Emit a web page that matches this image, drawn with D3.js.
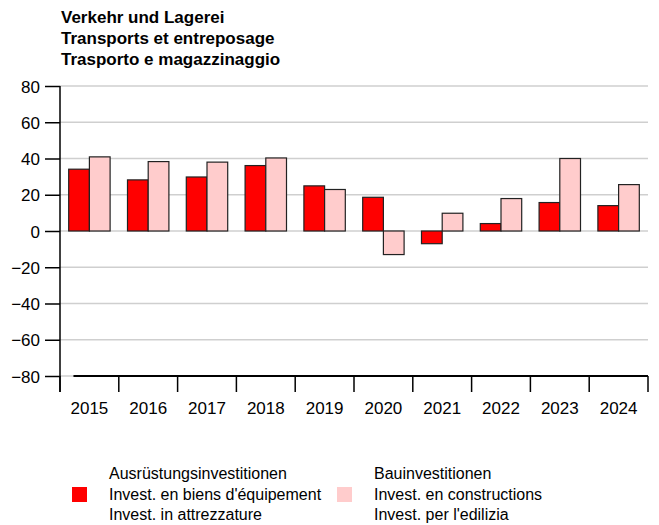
<!DOCTYPE html>
<html lang="de">
<head>
    <meta charset="utf-8">
    <title>Verkehr und Lagerei</title>
    <style>
        body {
            margin: 0;
            background: #fff;
            font-family: "Liberation Sans", Arial, sans-serif;
        }

        svg text {
            fill: #000;
        }

        .title {
            font-size: 17px;
            font-weight: bold;
        }

        .tick text {
            font-size: 17px;
        }

        .legend text {
            font-size: 16px;
        }
    </style>
</head>
<body>

<svg width="659" height="525"></svg>

<script src="https://d3js.org/d3.v7.min.js"></script>
<script>

    // data
    const years = ["2015", "2016", "2017", "2018", "2019", "2020", "2021", "2022", "2023", "2024"];
    const equipment = [34.1, 28.2, 29.8, 36.1, 24.9, 18.6, -7.0, 4.1, 15.7, 14.0];
    const construction = [40.9, 38.3, 38.0, 40.3, 22.9, -13.0, 9.8, 17.9, 40.0, 25.6];
    const yTicks = [-80, -60, -40, -20, 0, 20, 40, 60, 80];

    const titleLines = ["Verkehr und Lagerei", "Transports et entreposage", "Trasporto e magazzinaggio"];
    const seriesNames = ["equipment", "construction"];
    const legendLabels = [
        ["Ausrüstungsinvestitionen", "Invest. en biens d'équipement", "Invest. in attrezzature"],
        ["Bauinvestitionen", "Invest. en constructions", "Invest. per l'edilizia"]
    ];
    const colors = ["#ff0000", "#ffcccc"];

    const svg = d3.select("svg");
    const margin = {top: 86, right: 11, bottom: 149, left: 60};
    const width = +svg.attr("width") - margin.left - margin.right;
    const height = +svg.attr("height") - margin.top - margin.bottom;

    const vis = svg.append("g")
        .attr("transform", `translate(${margin.left},${margin.top})`);

    // title
    svg.append("text")
        .attr("class", "title")
        .selectAll("tspan")
        .data(titleLines)
        .join("tspan")
        .attr("x", 61)
        .attr("y", (d, i) => 23 + i * 21)
        .text(d => d);

    // scales
    const x = d3.scaleBand()
        .domain(years)
        .range([0, width]);
    const x1 = d3.scaleBand()
        .domain(seriesNames)
        .range([0, x.bandwidth()])
        .paddingOuter(0.42);
    const y = d3.scaleLinear()
        .domain([-80, 80])
        .range([height, 0]);

    // gridlines
    vis.append("g")
        .selectAll("line")
        .data(yTicks)
        .join("line")
        .attr("x1", 0)
        .attr("x2", width)
        .attr("y1", d => y(d))
        .attr("y2", d => y(d))
        .attr("stroke", "#cfcfcf")
        .attr("stroke-width", 1.5);

    // bars
    const rows = years.map((yr, i) => ({year: yr, values: [equipment[i], construction[i]]}));
    const groups = vis.append("g")
        .selectAll("g")
        .data(rows)
        .join("g")
        .attr("transform", d => `translate(${x(d.year)},0)`);
    groups.selectAll("rect")
        .data(d => d.values.map((v, j) => ({key: seriesNames[j], value: v, color: colors[j]})))
        .join("rect")
        .attr("x", d => x1(d.key))
        .attr("width", x1.bandwidth())
        .attr("y", d => y(Math.max(0, d.value)))
        .attr("height", d => Math.abs(y(d.value) - y(0)))
        .attr("fill", d => d.color)
        .attr("stroke", "#222")
        .attr("stroke-width", 1.2);

    // y axis
    const yAxis = vis.append("g")
        .call(d3.axisLeft(y).tickValues(yTicks).tickSize(15).tickPadding(5)
            .tickFormat(d => d < 0 ? "\u2212" + Math.abs(d) : d));
    yAxis.select(".domain").remove();
    yAxis.selectAll(".tick line").attr("stroke", "#000").attr("stroke-width", 1.5);
    yAxis.selectAll(".tick text").attr("font-family", "Liberation Sans, Arial, sans-serif").attr("dy", "0.36em");

    vis.append("line")
        .attr("x1", 0).attr("x2", 0)
        .attr("y1", y(80)).attr("y2", height + 16)
        .attr("stroke", "#000")
        .attr("stroke-width", 1.5);

    // x axis
    const xAxis = vis.append("g")
        .attr("transform", `translate(0,${height})`)
        .call(d3.axisBottom(x).tickSize(0).tickPadding(26));
    xAxis.select(".domain")
        .attr("d", `M${x1.step() * 0.65},0H${width}`)
        .attr("stroke", "#000")
        .attr("stroke-width", 2.2);
    xAxis.selectAll(".tick text").attr("font-family", "Liberation Sans, Arial, sans-serif");

    // band boundary ticks
    xAxis.append("g")
        .selectAll("line")
        .data(years.concat(["end"]))
        .join("line")
        .attr("x1", d => d === "end" ? width : x(d))
        .attr("x2", d => d === "end" ? width : x(d))
        .attr("y1", 0)
        .attr("y2", 16)
        .attr("stroke", "#000")
        .attr("stroke-width", 1.5);

    // legend
    const legend = svg.append("g").attr("class", "legend");
    const legendX = [72, 337];
    legendLabels.forEach((lines, i) => {
        const lg = legend.append("g").attr("transform", `translate(${legendX[i]},0)`);
        lg.append("rect")
            .attr("x", 0)
            .attr("y", 487)
            .attr("width", 15)
            .attr("height", 15)
            .attr("fill", colors[i]);
        lg.append("text")
            .selectAll("tspan")
            .data(lines)
            .join("tspan")
            .attr("x", 37)
            .attr("y", (d, k) => 479 + k * 20.7)
            .text(d => d);
    });

</script>

</body>
</html>
